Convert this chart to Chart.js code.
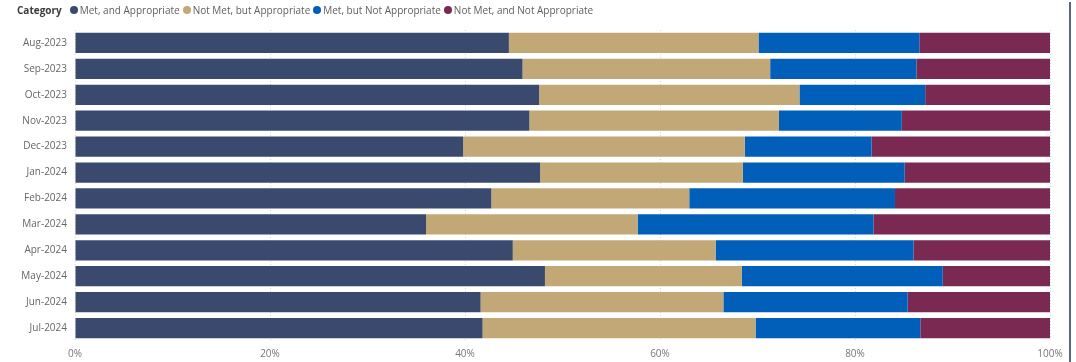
<!DOCTYPE html>
<html>
<head>
<meta charset="utf-8">
<script src="https://cdn.jsdelivr.net/npm/chart.js@4/dist/chart.umd.min.js"></script>
<style>
  html, body { margin: 0; padding: 0; background: #fff; }
  #wrap { position: relative; width: 1076px; height: 362px; overflow: hidden; }
  #chart { position: absolute; left: 0; top: 0; }
  #legend { position: absolute; left: 17px; top: 3px; height: 14px; display: flex; align-items: center;
            font-family: "Open Sans", "DejaVu Sans", sans-serif; font-size: 10px; color: #605e5c; white-space: nowrap; }
  #legend .title { font-weight: bold; color: #3b3a39; margin-right: 8px; }
  #legend .item { display: flex; align-items: center; margin-right: 3px; }
  #legend .dot { width: 8px; height: 8px; border-radius: 50%; margin-right: 2px; }
  #frame { position: absolute; left: 1069px; top: 2px; width: 2px; height: 360px; background: #5d6583; }
</style>
</head>
<body>
<div id="wrap">
  <canvas id="chart" width="1076" height="362"></canvas>
  <div id="legend"></div>
  <div id="frame"></div>
</div>
<script>
const categories = ["Aug-2023","Sep-2023","Oct-2023","Nov-2023","Dec-2023","Jan-2024","Feb-2024","Mar-2024","Apr-2024","May-2024","Jun-2024","Jul-2024"];
const seriesNames = ["Met, and Appropriate","Not Met, but Appropriate","Met, but Not Appropriate","Not Met, and Not Appropriate"];
const seriesColors = ["#3A4A6F","#C1A876","#015FB9","#7A2952"];
const metAndAppropriate      = [44.5,45.9,47.6,46.6,39.8,47.7,42.7,36.0,44.9,48.2,41.6,41.8];
const notMetButAppropriate   = [25.6,25.4,26.7,25.6,28.9,20.8,20.3,21.7,20.8,20.2,24.9,28.0];
const metButNotAppropriate   = [16.5,15.0,12.9,12.6,13.0,16.6,21.1,24.2,20.3,20.6,18.9,16.9];
const notMetNotAppropriate   = [13.4,13.7,12.8,15.2,18.3,14.9,15.9,18.1,14.0,11.0,14.6,13.3];
const xTicks = [0,20,40,60,80,100];
const legendTitle = "Category";

const seriesValues = [metAndAppropriate, notMetButAppropriate, metButNotAppropriate, notMetNotAppropriate];

// HTML legend
const leg = document.getElementById('legend');
const t = document.createElement('span'); t.className = 'title'; t.textContent = legendTitle; leg.appendChild(t);
seriesNames.forEach((n, i) => {
  const it = document.createElement('span'); it.className = 'item';
  const d = document.createElement('span'); d.className = 'dot'; d.style.background = seriesColors[i];
  const l = document.createElement('span'); l.textContent = n;
  it.appendChild(d); it.appendChild(l); leg.appendChild(it);
});

const font = { family: '"Open Sans", "DejaVu Sans", sans-serif', size: 10 };

new Chart(document.getElementById('chart'), {
  type: 'bar',
  data: {
    labels: categories,
    datasets: seriesNames.map((n, i) => ({
      label: n,
      data: seriesValues[i],
      backgroundColor: seriesColors[i],
      borderWidth: 0,
      categoryPercentage: 0.78,
      barPercentage: 1.0
    }))
  },
  options: {
    indexAxis: 'y',
    responsive: false,
    animation: false,
    layout: { padding: { top: 30, left: 5, right: 26, bottom: 0 } },
    plugins: { legend: { display: false }, tooltip: { enabled: false } },
    scales: {
      x: {
        stacked: true, min: 0, max: 100,
        afterBuildTicks: s => { s.ticks = xTicks.map(v => ({ value: v })); },
        afterFit: s => { s.height = 21; },
        ticks: { font: font, color: '#777', padding: 7, callback: v => v + '%' },
        grid: { color: '#d6d6d6', drawTicks: false, lineWidth: 1 },
        border: { display: false, dash: [1, 2] }
      },
      y: {
        stacked: true,
        afterFit: s => { s.width = 70; },
        ticks: { font: font, color: '#666', padding: 8 },
        grid: { display: false, drawTicks: false },
        border: { display: false }
      }
    }
  }
});
</script>
</body>
</html>
